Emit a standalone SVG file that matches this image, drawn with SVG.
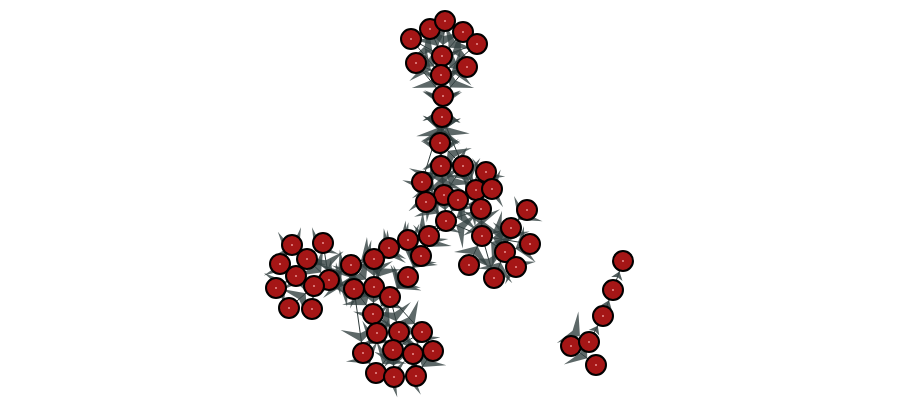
<svg xmlns="http://www.w3.org/2000/svg" width="900" height="400" viewBox="0 0 900 400">
<style>
.e{stroke:#2e3a3a;stroke-width:1;marker-end:url(#ah)}
.s{stroke:#2e3a3a;stroke-width:1;marker-end:url(#as)}
.n circle.b{fill:#a51616;stroke:#000;stroke-width:2}
.n circle.d{fill:#e89090}
</style>
<defs>
<marker id="ah" markerUnits="userSpaceOnUse" orient="auto" refX="11" refY="0" markerWidth="40" markerHeight="40" overflow="visible">
<path d="M0,0 L-15,-19 L-9,0 L-15,19 Z" fill="#354242" fill-opacity="0.8"/>
</marker>
<marker id="as" markerUnits="userSpaceOnUse" orient="auto" refX="11" refY="0" markerWidth="20" markerHeight="20" overflow="visible">
<path d="M0,0 L-8,-6 L-6,0 L-8,6 Z" fill="#354242" fill-opacity="0.85"/>
</marker>
</defs>
<rect width="900" height="400" fill="#fff"/>
<g id="connectors">
<line class="e" x1="411" y1="39" x2="442" y2="56"/>
<line class="e" x1="430" y1="29" x2="442" y2="56"/>
<line class="e" x1="445" y1="21" x2="442" y2="56"/>
<line class="e" x1="463" y1="32" x2="442" y2="56"/>
<line class="e" x1="477" y1="44" x2="442" y2="56"/>
<line class="e" x1="416" y1="63" x2="441" y2="75"/>
<line class="e" x1="467" y1="67" x2="441" y2="75"/>
<line class="e" x1="442" y1="56" x2="441" y2="75"/>
<line class="e" x1="411" y1="39" x2="441" y2="75"/>
<line class="e" x1="477" y1="44" x2="441" y2="75"/>
<line class="e" x1="441" y1="75" x2="443" y2="96"/>
<line class="e" x1="442" y1="56" x2="443" y2="96"/>
<line class="e" x1="416" y1="63" x2="443" y2="96"/>
<line class="e" x1="467" y1="67" x2="443" y2="96"/>
<line class="e" x1="442" y1="117" x2="443" y2="96"/>
<line class="e" x1="440" y1="143" x2="443" y2="96"/>
<line class="e" x1="443" y1="96" x2="442" y2="117"/>
<line class="e" x1="441" y1="75" x2="442" y2="117"/>
<line class="e" x1="442" y1="56" x2="442" y2="117"/>
<line class="e" x1="440" y1="143" x2="442" y2="117"/>
<line class="e" x1="441" y1="166" x2="442" y2="117"/>
<line class="e" x1="463" y1="166" x2="442" y2="117"/>
<line class="e" x1="422" y1="182" x2="442" y2="117"/>
<line class="e" x1="442" y1="117" x2="440" y2="143"/>
<line class="e" x1="443" y1="96" x2="440" y2="143"/>
<line class="e" x1="441" y1="166" x2="440" y2="143"/>
<line class="e" x1="463" y1="166" x2="440" y2="143"/>
<line class="e" x1="444" y1="195" x2="440" y2="143"/>
<line class="e" x1="440" y1="143" x2="441" y2="166"/>
<line class="e" x1="442" y1="117" x2="441" y2="166"/>
<line class="e" x1="422" y1="182" x2="441" y2="166"/>
<line class="e" x1="444" y1="195" x2="441" y2="166"/>
<line class="e" x1="463" y1="166" x2="441" y2="166"/>
<line class="e" x1="441" y1="166" x2="444" y2="195"/>
<line class="e" x1="463" y1="166" x2="444" y2="195"/>
<line class="e" x1="422" y1="182" x2="444" y2="195"/>
<line class="e" x1="426" y1="202" x2="444" y2="195"/>
<line class="e" x1="458" y1="200" x2="444" y2="195"/>
<line class="e" x1="476" y1="190" x2="458" y2="200"/>
<line class="e" x1="486" y1="172" x2="458" y2="200"/>
<line class="e" x1="492" y1="189" x2="458" y2="200"/>
<line class="e" x1="481" y1="209" x2="458" y2="200"/>
<line class="e" x1="463" y1="166" x2="476" y2="190"/>
<line class="e" x1="486" y1="172" x2="476" y2="190"/>
<line class="e" x1="492" y1="189" x2="476" y2="190"/>
<line class="e" x1="444" y1="195" x2="446" y2="221"/>
<line class="e" x1="426" y1="202" x2="446" y2="221"/>
<line class="e" x1="458" y1="200" x2="446" y2="221"/>
<line class="e" x1="481" y1="209" x2="446" y2="221"/>
<line class="e" x1="422" y1="182" x2="426" y2="202"/>
<line class="e" x1="426" y1="202" x2="422" y2="182"/>
<line class="e" x1="527" y1="210" x2="511" y2="228"/>
<line class="e" x1="511" y1="228" x2="482" y2="236"/>
<line class="e" x1="530" y1="244" x2="482" y2="236"/>
<line class="e" x1="505" y1="252" x2="482" y2="236"/>
<line class="e" x1="516" y1="267" x2="505" y2="252"/>
<line class="e" x1="494" y1="278" x2="505" y2="252"/>
<line class="e" x1="469" y1="265" x2="482" y2="236"/>
<line class="e" x1="482" y1="236" x2="481" y2="209"/>
<line class="e" x1="511" y1="228" x2="505" y2="252"/>
<line class="e" x1="530" y1="244" x2="505" y2="252"/>
<line class="e" x1="481" y1="209" x2="482" y2="236"/>
<line class="e" x1="482" y1="236" x2="494" y2="278"/>
<line class="e" x1="482" y1="236" x2="446" y2="221"/>
<line class="e" x1="446" y1="221" x2="429" y2="236"/>
<line class="e" x1="446" y1="221" x2="408" y2="240"/>
<line class="e" x1="429" y1="236" x2="421" y2="256"/>
<line class="e" x1="408" y1="240" x2="421" y2="256"/>
<line class="e" x1="446" y1="221" x2="421" y2="256"/>
<line class="e" x1="421" y1="256" x2="408" y2="277"/>
<line class="e" x1="429" y1="236" x2="408" y2="277"/>
<line class="e" x1="429" y1="236" x2="389" y2="248"/>
<line class="e" x1="408" y1="240" x2="389" y2="248"/>
<line class="e" x1="389" y1="248" x2="374" y2="259"/>
<line class="e" x1="374" y1="259" x2="351" y2="265"/>
<line class="e" x1="408" y1="240" x2="374" y2="259"/>
<line class="e" x1="389" y1="248" x2="374" y2="287"/>
<line class="e" x1="374" y1="259" x2="374" y2="287"/>
<line class="e" x1="351" y1="265" x2="374" y2="287"/>
<line class="e" x1="354" y1="289" x2="374" y2="287"/>
<line class="e" x1="374" y1="287" x2="390" y2="297"/>
<line class="e" x1="408" y1="277" x2="390" y2="297"/>
<line class="e" x1="390" y1="297" x2="373" y2="314"/>
<line class="e" x1="374" y1="287" x2="373" y2="314"/>
<line class="e" x1="354" y1="289" x2="373" y2="314"/>
<line class="e" x1="421" y1="256" x2="390" y2="297"/>
<line class="e" x1="351" y1="265" x2="354" y2="289"/>
<line class="e" x1="389" y1="248" x2="351" y2="265"/>
<line class="e" x1="292" y1="245" x2="307" y2="259"/>
<line class="e" x1="323" y1="243" x2="307" y2="259"/>
<line class="e" x1="280" y1="264" x2="296" y2="276"/>
<line class="e" x1="307" y1="259" x2="296" y2="276"/>
<line class="e" x1="296" y1="276" x2="314" y2="286"/>
<line class="e" x1="329" y1="280" x2="314" y2="286"/>
<line class="e" x1="276" y1="288" x2="296" y2="276"/>
<line class="e" x1="314" y1="286" x2="312" y2="309"/>
<line class="e" x1="289" y1="308" x2="314" y2="286"/>
<line class="e" x1="292" y1="245" x2="280" y2="264"/>
<line class="e" x1="323" y1="243" x2="329" y2="280"/>
<line class="e" x1="351" y1="265" x2="329" y2="280"/>
<line class="e" x1="329" y1="280" x2="351" y2="265"/>
<line class="e" x1="329" y1="280" x2="354" y2="289"/>
<line class="e" x1="354" y1="289" x2="329" y2="280"/>
<line class="e" x1="307" y1="259" x2="329" y2="280"/>
<line class="e" x1="373" y1="314" x2="377" y2="333"/>
<line class="e" x1="373" y1="314" x2="399" y2="332"/>
<line class="e" x1="377" y1="333" x2="363" y2="353"/>
<line class="e" x1="377" y1="333" x2="393" y2="350"/>
<line class="e" x1="399" y1="332" x2="393" y2="350"/>
<line class="e" x1="422" y1="332" x2="393" y2="350"/>
<line class="e" x1="393" y1="350" x2="413" y2="354"/>
<line class="e" x1="413" y1="354" x2="433" y2="351"/>
<line class="e" x1="393" y1="350" x2="376" y2="373"/>
<line class="e" x1="393" y1="350" x2="394" y2="377"/>
<line class="e" x1="413" y1="354" x2="416" y2="376"/>
<line class="e" x1="363" y1="353" x2="376" y2="373"/>
<line class="e" x1="394" y1="377" x2="376" y2="373"/>
<line class="e" x1="416" y1="376" x2="394" y2="377"/>
<line class="e" x1="422" y1="332" x2="413" y2="354"/>
<line class="e" x1="433" y1="351" x2="416" y2="376"/>
<line class="e" x1="390" y1="297" x2="399" y2="332"/>
<line class="e" x1="390" y1="297" x2="422" y2="332"/>
<line class="e" x1="354" y1="289" x2="363" y2="353"/>
<line class="s" x1="603" y1="316" x2="613" y2="290"/>
<line class="s" x1="613" y1="290" x2="623" y2="261"/>
<line class="s" x1="589" y1="342" x2="603" y2="316"/>
<line class="e" x1="560" y1="322" x2="589" y2="342" stroke-opacity="0"/>
<line class="e" x1="571" y1="346" x2="596" y2="365"/>
</g>
<g id="nodes">
<g id="n1" class="n"><circle class="b" cx="411" cy="39" r="10"/><circle class="d" cx="411" cy="39" r="1"/></g>
<g id="n2" class="n"><circle class="b" cx="430" cy="29" r="10"/><circle class="d" cx="430" cy="29" r="1"/></g>
<g id="n3" class="n"><circle class="b" cx="445" cy="21" r="10"/><circle class="d" cx="445" cy="21" r="1"/></g>
<g id="n4" class="n"><circle class="b" cx="463" cy="32" r="10"/><circle class="d" cx="463" cy="32" r="1"/></g>
<g id="n5" class="n"><circle class="b" cx="477" cy="44" r="10"/><circle class="d" cx="477" cy="44" r="1"/></g>
<g id="n6" class="n"><circle class="b" cx="416" cy="63" r="10"/><circle class="d" cx="416" cy="63" r="1"/></g>
<g id="n7" class="n"><circle class="b" cx="442" cy="56" r="10"/><circle class="d" cx="442" cy="56" r="1"/></g>
<g id="n8" class="n"><circle class="b" cx="467" cy="67" r="10"/><circle class="d" cx="467" cy="67" r="1"/></g>
<g id="n9" class="n"><circle class="b" cx="441" cy="75" r="10"/><circle class="d" cx="441" cy="75" r="1"/></g>
<g id="n10" class="n"><circle class="b" cx="443" cy="96" r="10"/><circle class="d" cx="443" cy="96" r="1"/></g>
<g id="n11" class="n"><circle class="b" cx="442" cy="117" r="10"/><circle class="d" cx="442" cy="117" r="1"/></g>
<g id="n12" class="n"><circle class="b" cx="440" cy="143" r="10"/><circle class="d" cx="440" cy="143" r="1"/></g>
<g id="n13" class="n"><circle class="b" cx="441" cy="166" r="10"/><circle class="d" cx="441" cy="166" r="1"/></g>
<g id="n14" class="n"><circle class="b" cx="463" cy="166" r="10"/><circle class="d" cx="463" cy="166" r="1"/></g>
<g id="n15" class="n"><circle class="b" cx="486" cy="172" r="10"/><circle class="d" cx="486" cy="172" r="1"/></g>
<g id="n16" class="n"><circle class="b" cx="422" cy="182" r="10"/><circle class="d" cx="422" cy="182" r="1"/></g>
<g id="n17" class="n"><circle class="b" cx="476" cy="190" r="10"/><circle class="d" cx="476" cy="190" r="1"/></g>
<g id="n18" class="n"><circle class="b" cx="492" cy="189" r="10"/><circle class="d" cx="492" cy="189" r="1"/></g>
<g id="n19" class="n"><circle class="b" cx="444" cy="195" r="10"/><circle class="d" cx="444" cy="195" r="1"/></g>
<g id="n20" class="n"><circle class="b" cx="426" cy="202" r="10"/><circle class="d" cx="426" cy="202" r="1"/></g>
<g id="n21" class="n"><circle class="b" cx="458" cy="200" r="10"/><circle class="d" cx="458" cy="200" r="1"/></g>
<g id="n22" class="n"><circle class="b" cx="481" cy="209" r="10"/><circle class="d" cx="481" cy="209" r="1"/></g>
<g id="n23" class="n"><circle class="b" cx="446" cy="221" r="10"/><circle class="d" cx="446" cy="221" r="1"/></g>
<g id="n24" class="n"><circle class="b" cx="527" cy="210" r="10"/><circle class="d" cx="527" cy="210" r="1"/></g>
<g id="n25" class="n"><circle class="b" cx="511" cy="228" r="10"/><circle class="d" cx="511" cy="228" r="1"/></g>
<g id="n26" class="n"><circle class="b" cx="482" cy="236" r="10"/><circle class="d" cx="482" cy="236" r="1"/></g>
<g id="n27" class="n"><circle class="b" cx="530" cy="244" r="10"/><circle class="d" cx="530" cy="244" r="1"/></g>
<g id="n28" class="n"><circle class="b" cx="505" cy="252" r="10"/><circle class="d" cx="505" cy="252" r="1"/></g>
<g id="n29" class="n"><circle class="b" cx="516" cy="267" r="10"/><circle class="d" cx="516" cy="267" r="1"/></g>
<g id="n30" class="n"><circle class="b" cx="469" cy="265" r="10"/><circle class="d" cx="469" cy="265" r="1"/></g>
<g id="n31" class="n"><circle class="b" cx="494" cy="278" r="10"/><circle class="d" cx="494" cy="278" r="1"/></g>
<g id="n32" class="n"><circle class="b" cx="429" cy="236" r="10"/><circle class="d" cx="429" cy="236" r="1"/></g>
<g id="n33" class="n"><circle class="b" cx="408" cy="240" r="10"/><circle class="d" cx="408" cy="240" r="1"/></g>
<g id="n34" class="n"><circle class="b" cx="421" cy="256" r="10"/><circle class="d" cx="421" cy="256" r="1"/></g>
<g id="n35" class="n"><circle class="b" cx="389" cy="248" r="10"/><circle class="d" cx="389" cy="248" r="1"/></g>
<g id="n36" class="n"><circle class="b" cx="374" cy="259" r="10"/><circle class="d" cx="374" cy="259" r="1"/></g>
<g id="n37" class="n"><circle class="b" cx="351" cy="265" r="10"/><circle class="d" cx="351" cy="265" r="1"/></g>
<g id="n38" class="n"><circle class="b" cx="408" cy="277" r="10"/><circle class="d" cx="408" cy="277" r="1"/></g>
<g id="n39" class="n"><circle class="b" cx="354" cy="289" r="10"/><circle class="d" cx="354" cy="289" r="1"/></g>
<g id="n40" class="n"><circle class="b" cx="374" cy="287" r="10"/><circle class="d" cx="374" cy="287" r="1"/></g>
<g id="n41" class="n"><circle class="b" cx="390" cy="297" r="10"/><circle class="d" cx="390" cy="297" r="1"/></g>
<g id="n42" class="n"><circle class="b" cx="373" cy="314" r="10"/><circle class="d" cx="373" cy="314" r="1"/></g>
<g id="n43" class="n"><circle class="b" cx="292" cy="245" r="10"/><circle class="d" cx="292" cy="245" r="1"/></g>
<g id="n44" class="n"><circle class="b" cx="323" cy="243" r="10"/><circle class="d" cx="323" cy="243" r="1"/></g>
<g id="n45" class="n"><circle class="b" cx="307" cy="259" r="10"/><circle class="d" cx="307" cy="259" r="1"/></g>
<g id="n46" class="n"><circle class="b" cx="280" cy="264" r="10"/><circle class="d" cx="280" cy="264" r="1"/></g>
<g id="n47" class="n"><circle class="b" cx="296" cy="276" r="10"/><circle class="d" cx="296" cy="276" r="1"/></g>
<g id="n48" class="n"><circle class="b" cx="329" cy="280" r="10"/><circle class="d" cx="329" cy="280" r="1"/></g>
<g id="n49" class="n"><circle class="b" cx="314" cy="286" r="10"/><circle class="d" cx="314" cy="286" r="1"/></g>
<g id="n50" class="n"><circle class="b" cx="276" cy="288" r="10"/><circle class="d" cx="276" cy="288" r="1"/></g>
<g id="n51" class="n"><circle class="b" cx="289" cy="308" r="10"/><circle class="d" cx="289" cy="308" r="1"/></g>
<g id="n52" class="n"><circle class="b" cx="312" cy="309" r="10"/><circle class="d" cx="312" cy="309" r="1"/></g>
<g id="n53" class="n"><circle class="b" cx="377" cy="333" r="10"/><circle class="d" cx="377" cy="333" r="1"/></g>
<g id="n54" class="n"><circle class="b" cx="399" cy="332" r="10"/><circle class="d" cx="399" cy="332" r="1"/></g>
<g id="n55" class="n"><circle class="b" cx="422" cy="332" r="10"/><circle class="d" cx="422" cy="332" r="1"/></g>
<g id="n56" class="n"><circle class="b" cx="363" cy="353" r="10"/><circle class="d" cx="363" cy="353" r="1"/></g>
<g id="n57" class="n"><circle class="b" cx="393" cy="350" r="10"/><circle class="d" cx="393" cy="350" r="1"/></g>
<g id="n58" class="n"><circle class="b" cx="413" cy="354" r="10"/><circle class="d" cx="413" cy="354" r="1"/></g>
<g id="n59" class="n"><circle class="b" cx="433" cy="351" r="10"/><circle class="d" cx="433" cy="351" r="1"/></g>
<g id="n60" class="n"><circle class="b" cx="376" cy="373" r="10"/><circle class="d" cx="376" cy="373" r="1"/></g>
<g id="n61" class="n"><circle class="b" cx="394" cy="377" r="10"/><circle class="d" cx="394" cy="377" r="1"/></g>
<g id="n62" class="n"><circle class="b" cx="416" cy="376" r="10"/><circle class="d" cx="416" cy="376" r="1"/></g>
<g id="n63" class="n"><circle class="b" cx="623" cy="261" r="10"/><circle class="d" cx="623" cy="261" r="1"/></g>
<g id="n64" class="n"><circle class="b" cx="613" cy="290" r="10"/><circle class="d" cx="613" cy="290" r="1"/></g>
<g id="n65" class="n"><circle class="b" cx="603" cy="316" r="10"/><circle class="d" cx="603" cy="316" r="1"/></g>
<g id="n66" class="n"><circle class="b" cx="571" cy="346" r="10"/><circle class="d" cx="571" cy="346" r="1"/></g>
<g id="n67" class="n"><circle class="b" cx="589" cy="342" r="10"/><circle class="d" cx="589" cy="342" r="1"/></g>
<g id="n68" class="n"><circle class="b" cx="596" cy="365" r="10"/><circle class="d" cx="596" cy="365" r="1"/></g>
</g>
</svg>
